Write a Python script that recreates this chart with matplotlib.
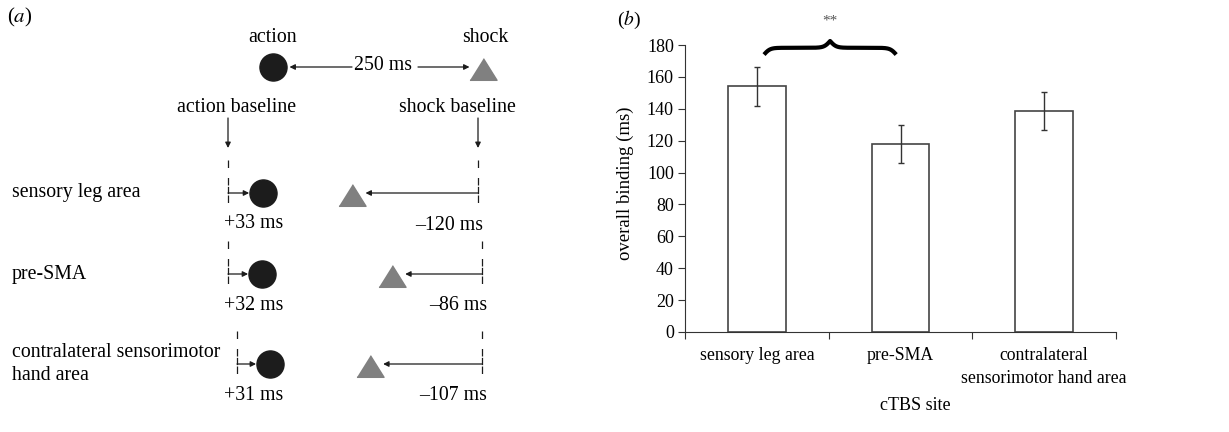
import numpy as np
import matplotlib
matplotlib.use('Agg')
import matplotlib.pyplot as plt

plt.rcParams['font.family'] = ['Liberation Serif', 'DejaVu Serif']
plt.rcParams['mathtext.fontset'] = 'stix'

# panel (b) data
sites = ['sensory leg area', 'pre-SMA', 'contralateral\nsensorimotor hand area']
binding = [154, 118, 138.5]
binding_err = [12, 12, 12]
y_ticks = [0, 20, 40, 60, 80, 100, 120, 140, 160, 180]

# panel (a) data
row_labels = ['sensory leg area', 'pre-SMA', 'contralateral sensorimotor\nhand area']
action_shift = [33, 32, 31]
shock_shift = [-120, -86, -107]
interval = 250

dark = '#1c1c1c'
grey = '#808080'
fs_a = 14.3

fig = plt.figure(figsize=(12.29, 4.32), dpi=100)

# ---- panel (a): schematic, drawn in pixel-like units
ax_a = fig.add_axes([0, 0, 1, 1])
ax_a.set_xlim(0, 1229)
ax_a.set_ylim(432, 0)
ax_a.axis('off')

tri = [(-1, -0.8), (1, -0.8), (0, 0.8)]
circ_ms = 19.5
tri_ms = 19.5
r_circ = 13.5
r_tri = 13.5
arrow = dict(arrowstyle='-|>', lw=0.9, color=dark, mutation_scale=8,
             shrinkA=0, shrinkB=0)

def arr(x0, y0, x1, y1):
    ax_a.annotate('', xy=(x1, y1), xytext=(x0, y0), arrowprops=arrow)

ax_a.text(7, 17, r'($\mathit{a}$)', fontsize=15, va='center', ha='left')

# top row
act0 = 273
shk0 = act0 + interval * 0.84
y0 = 67
ax_a.plot(act0, y0, 'o', ms=circ_ms, color=dark)
ax_a.plot(shk0, y0 + 2, marker=tri, ms=tri_ms, color=grey, ls='none')
ax_a.text(act0, 37, 'action', fontsize=fs_a, ha='center', va='center')
ax_a.text(shk0 + 2, 37, 'shock', fontsize=fs_a, ha='center', va='center')
mid = (act0 + shk0) / 2 + 5
ax_a.text(mid, y0 - 1, f'{interval} ms', fontsize=fs_a, ha='center', va='center')
arr(mid - 31, y0, act0 + r_circ + 3, y0)
arr(mid + 35, y0, shk0 - r_tri, y0)

# baselines
ax_a.text(237, 108, 'action baseline', fontsize=fs_a, ha='center', va='center')
ax_a.text(457, 108, 'shock baseline', fontsize=fs_a, ha='center', va='center')
arr(228, 118, 228, 148)
arr(478, 118, 478, 148)

row_y = [193, 274, 364]
act_base = [228, 228, 237]
shk_base = [478, 482, 482]
k = 1.05
for i in range(3):
    y = row_y[i]
    ax_a.text(12, y, row_labels[i], fontsize=fs_a, ha='left', va='center',
              linespacing=1.25)
    ax_a.plot([act_base[i], act_base[i]], [y - 33, y + 15], color=dark, lw=0.9,
              ls=(0, (6, 8)))
    ax_a.plot([shk_base[i], shk_base[i]], [y - 33, y + 15], color=dark, lw=0.9,
              ls=(0, (6, 8)))
    ax_a.plot([act_base[i], act_base[i]], [y - 6, y], color=dark, lw=0.9)
    ax_a.plot([shk_base[i], shk_base[i]], [y - 6, y], color=dark, lw=0.9)
    ax_ = act_base[i] + action_shift[i] * k
    sx = shk_base[i] + shock_shift[i] * k
    ax_a.plot(ax_, y, 'o', ms=circ_ms, color=dark)
    ax_a.plot(sx, y + 2, marker=tri, ms=tri_ms, color=grey, ls='none')
    arr(act_base[i], y, ax_ - r_circ, y)
    arr(shk_base[i], y, sx + r_tri, y)
    ax_a.text(224, y + 31, f'+{action_shift[i]} ms', fontsize=fs_a,
              ha='left', va='center')
    ax_a.text(shk_base[i] + 5, y + 32, f'\u2013{-shock_shift[i]} ms', fontsize=fs_a,
              ha='right', va='center')

# ---- panel (b): bar chart
ax = fig.add_axes([685 / 1229, 1 - 332 / 432, 431 / 1229, 287 / 432])
x = np.arange(len(sites))
ax.bar(x, binding, width=0.4, color='white', edgecolor='#444444', linewidth=1.2,
       yerr=binding_err,
       error_kw=dict(ecolor='#333333', elinewidth=1, capsize=2.5, capthick=1))
ax.set_xlim(-0.5, 2.5)
ax.set_ylim(0, 180)
ax.set_yticks(y_ticks)
ax.set_xticks([-0.5, 0.5, 1.5, 2.5])
ax.set_xticklabels([])
ax.set_xticks(x, minor=True)
ax.set_xticklabels(sites, minor=True)
for t in ax.get_xticklabels(minor=True):
    t.set_linespacing(1.45)
ax.tick_params(axis='x', which='minor', length=0, pad=11, labelsize=12.8)
ax.tick_params(axis='x', which='major', length=5, direction='out', color='#333333')
ax.tick_params(axis='y', length=5, direction='out', labelsize=13, color='#333333',
               pad=3)
for s in ['top', 'right']:
    ax.spines[s].set_visible(False)
for s in ['left', 'bottom']:
    ax.spines[s].set_color('#333333')

ax.set_ylabel('overall binding (ms)', fontsize=13.5)
ax.yaxis.set_label_coords(-0.118, 0.52)
ax.set_xlabel('cTBS site', fontsize=13)
ax.xaxis.set_label_coords(0.534, -0.225)

# significance brace between first two bars
half = np.linspace(0, 1, 200)
beta = 22
yy = 1 / (1 + np.exp(-beta * half)) + 1 / (1 + np.exp(-beta * (half - 1)))
xb0, xb1 = 0.05, 0.97
xm = (xb0 + xb1) / 2
xs = np.concatenate([xb0 + half * (xm - xb0), xm + (1 - half[::-1]) * (xb1 - xm)])
ys = np.concatenate([yy, yy[::-1]])
ys = 174 + (ys - 0.5) * 8.5
ax.plot(xs, ys, color='black', lw=3, clip_on=False, solid_capstyle='butt')
ax.text(xm, 195, '**', fontsize=11, color='#555555', ha='center', va='center')

fig.text(617 / 1229, 1 - 20 / 432, r'($\mathit{b}$)', fontsize=14, ha='left',
         va='center')

fig.savefig('out.png', dpi=100)
